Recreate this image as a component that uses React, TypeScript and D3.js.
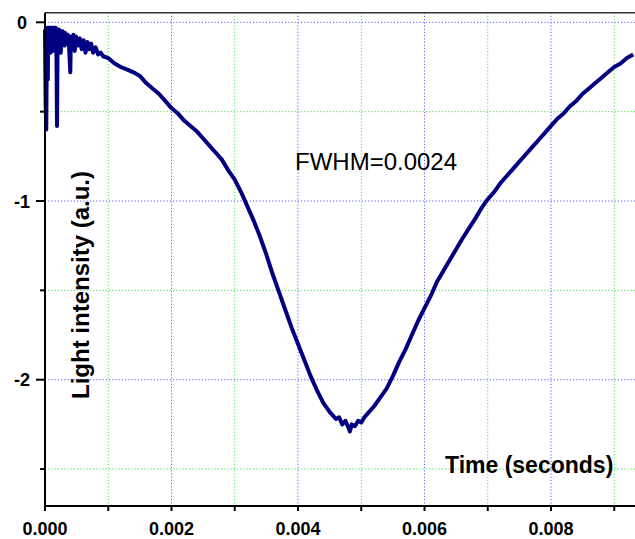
import React from "react";
import * as d3 from "d3";

// Time (s) and light intensity (a.u.)
const timeSec: number[] = [
  0.0, 0.00001, 0.00002, 0.00003, 0.00004, 0.000045, 0.00005, 0.000055, 0.00006, 0.000065,
  0.00007, 0.000075, 0.00008, 0.000085, 0.00009, 0.000095, 0.0001, 0.000105, 0.00011, 0.000115,
  0.00012, 0.000125, 0.00013, 0.000135, 0.00014, 0.000145, 0.00015, 0.000155, 0.00016, 0.000165,
  0.00017, 0.00018, 0.00019, 0.0002, 0.00021, 0.00022, 0.00023, 0.00024, 0.00025, 0.00026,
  0.00027, 0.00028, 0.00029, 0.0003, 0.00031, 0.00032, 0.00034, 0.00036, 0.00038, 0.0004,
  0.00041, 0.00043, 0.00045, 0.00047, 0.00049, 0.00052, 0.00055, 0.00058, 0.00061, 0.00064,
  0.00067, 0.0007, 0.00073, 0.00076, 0.0008, 0.00084, 0.00088, 0.00092,
  0.001, 0.0011, 0.0012, 0.0013, 0.0014, 0.0015, 0.0016, 0.0017,
  0.0018, 0.0019, 0.002, 0.0021, 0.0022, 0.0023, 0.0024, 0.0025, 0.0026, 0.0027,
  0.0028, 0.0029, 0.003, 0.0031, 0.0032, 0.0033, 0.0034, 0.0035, 0.0036, 0.0037,
  0.0038, 0.0039, 0.004, 0.0041, 0.0042, 0.0043, 0.0044, 0.0045, 0.0046, 0.00465,
  0.0047, 0.00475, 0.0048, 0.00482, 0.00485, 0.0049, 0.00495, 0.005, 0.00505, 0.0051,
  0.0052, 0.0053, 0.0054, 0.0055, 0.0056, 0.0057, 0.0058, 0.0059, 0.006, 0.0061,
  0.0062, 0.0063, 0.0064, 0.0065, 0.0066, 0.0067, 0.0068, 0.0069, 0.007, 0.0071,
  0.0072, 0.0073, 0.0074, 0.0075, 0.0076, 0.0077, 0.0078, 0.0079, 0.008, 0.0081,
  0.0082, 0.0083, 0.0084, 0.0085, 0.0086, 0.0087, 0.0088, 0.0089, 0.009, 0.0091,
  0.0092, 0.0093,
];

const intensity: number[] = [
  -0.04, -0.45, -0.6, -0.1, -0.03, -0.32, -0.03, -0.15, -0.03, -0.16,
  -0.03, -0.14, -0.03, -0.17, -0.04, -0.15, -0.03, -0.16, -0.03, -0.14,
  -0.04, -0.16, -0.03, -0.13, -0.04, -0.15, -0.03, -0.12, -0.04, -0.14,
  -0.03, -0.12, -0.58, -0.05, -0.14, -0.04, -0.1, -0.05, -0.17, -0.05,
  -0.11, -0.05, -0.12, -0.06, -0.13, -0.06, -0.12, -0.07, -0.13, -0.28,
  -0.08, -0.14, -0.07, -0.16, -0.08, -0.13, -0.09, -0.15, -0.1, -0.17,
  -0.11, -0.15, -0.12, -0.17, -0.14, -0.18, -0.17, -0.19,
  -0.2, -0.23, -0.25, -0.265, -0.28, -0.3, -0.34, -0.37,
  -0.4, -0.44, -0.48, -0.51, -0.55, -0.58, -0.61, -0.65, -0.69, -0.73,
  -0.77, -0.83, -0.88, -0.95, -1.03, -1.11, -1.2, -1.3, -1.41, -1.51,
  -1.61, -1.71, -1.8, -1.89, -1.98, -2.06, -2.13, -2.18, -2.22, -2.21,
  -2.25, -2.23, -2.27, -2.29, -2.25, -2.26, -2.23, -2.24, -2.21, -2.19,
  -2.15, -2.1, -2.05, -1.98, -1.9, -1.83, -1.75, -1.67, -1.6, -1.53,
  -1.45, -1.39, -1.33, -1.27, -1.21, -1.155, -1.1, -1.04, -0.99, -0.95,
  -0.9, -0.86, -0.82, -0.78, -0.74, -0.7, -0.66, -0.62, -0.58, -0.54,
  -0.51, -0.47, -0.44, -0.4, -0.37, -0.34, -0.31, -0.28, -0.25, -0.23,
  -0.2, -0.18,
];

const xMajorTicks: number[] = [0, 0.002, 0.004, 0.006, 0.008];
const xMajorLabels: string[] = ["0.000", "0.002", "0.004", "0.006", "0.008"];
const xMinorTicks: number[] = [0.001, 0.003, 0.005, 0.007, 0.009];
const yMajorTicks: number[] = [0, -1, -2];
const yMajorLabels: string[] = ["0", "-1", "-2"];
const yMinorTicks: number[] = [-0.5, -1.5, -2.5];

const W = 635;
const H = 539;

export default function App() {
  const x = d3.scaleLinear().domain([0, 0.002]).range([45, 171.5]);
  const y = d3.scaleLinear().domain([0, -1]).range([22.3, 201]);
  const left = x(0);
  const right = 640;
  const top = y(0.054);
  const bottom = y(-2.707);

  const pts: [number, number][] = timeSec.map((t, i) => [t, intensity[i]]);
  const line = d3
    .line<[number, number]>()
    .x((d) => x(d[0]))
    .y((d) => y(d[1]));

  const blue = "#5a5aff";
  const green = "#4be04b";
  const dash = "1.2 2";
  const font = "Liberation Sans, Arial, sans-serif";

  return (
    <svg
      width={W}
      height={H}
      style={{ position: "absolute", left: 0, top: 0, background: "#fff" }}
    >
      <rect x={0} y={0} width={W} height={H} fill="#fff" />
      {/* grid */}
      {xMinorTicks.map((t) => (
        <line key={"gxm" + t} x1={x(t)} x2={x(t)} y1={top} y2={bottom} stroke={green} strokeWidth={1} strokeDasharray={dash} />
      ))}
      {xMajorTicks.filter((t) => t > 0).map((t) => (
        <line key={"gxM" + t} x1={x(t)} x2={x(t)} y1={top} y2={bottom} stroke={blue} strokeWidth={1} strokeDasharray={dash} />
      ))}
      {yMinorTicks.map((v) => (
        <line key={"gym" + v} x1={left} x2={right} y1={y(v)} y2={y(v)} stroke={green} strokeWidth={1} strokeDasharray={dash} />
      ))}
      {yMajorTicks.map((v) => (
        <line key={"gyM" + v} x1={left} x2={right} y1={y(v)} y2={y(v)} stroke={blue} strokeWidth={1} strokeDasharray={dash} />
      ))}

      {/* data */}
      <path d={line(pts) || ""} fill="none" stroke="#000080" strokeWidth={4} strokeLinejoin="round" />

      {/* frame */}
      <line x1={left} x2={right} y1={top} y2={top} stroke="#333" strokeWidth={1.5} />
      <line x1={left} x2={left} y1={top} y2={bottom + 1} stroke="#000" strokeWidth={2} />
      <line x1={left - 1} x2={right} y1={bottom} y2={bottom} stroke="#000" strokeWidth={2} />

      {/* y ticks */}
      {yMajorTicks.map((v, i) => (
        <g key={"yt" + v}>
          <line x1={left - 9} x2={left} y1={y(v)} y2={y(v)} stroke="#000" strokeWidth={2} />
          <text x={22} y={y(v) + 6.5} textAnchor="middle" fontFamily={font} fontWeight="bold" fontSize={18} fill="#000">
            {yMajorLabels[i]}
          </text>
        </g>
      ))}
      {yMinorTicks.map((v) => (
        <line key={"ytm" + v} x1={left - 5} x2={left} y1={y(v)} y2={y(v)} stroke="#000" strokeWidth={2} />
      ))}

      {/* x ticks */}
      {xMajorTicks.map((t, i) => (
        <g key={"xt" + t}>
          <line x1={x(t)} x2={x(t)} y1={bottom} y2={bottom + 5} stroke="#000" strokeWidth={2} />
          <text x={x(t)} y={535} textAnchor="middle" fontFamily={font} fontWeight="bold" fontSize={18} fill="#000">
            {xMajorLabels[i]}
          </text>
        </g>
      ))}
      {xMinorTicks.map((t) => (
        <line key={"xtm" + t} x1={x(t)} x2={x(t)} y1={bottom} y2={bottom + 5} stroke="#000" strokeWidth={2} />
      ))}

      {/* titles */}
      <text x={445} y={473} fontFamily={font} fontWeight="bold" fontSize={23} fill="#000">
        Time (seconds)
      </text>
      <text
        transform="translate(89,285) rotate(-90)"
        textAnchor="middle"
        fontFamily={font}
        fontWeight="bold"
        fontSize={24}
        fill="#000"
      >
        Light intensity (a.u.)
      </text>
      <text x={295} y={170} fontFamily={font} fontSize={24} fill="#000">
        FWHM=0.0024
      </text>
    </svg>
  );
}
